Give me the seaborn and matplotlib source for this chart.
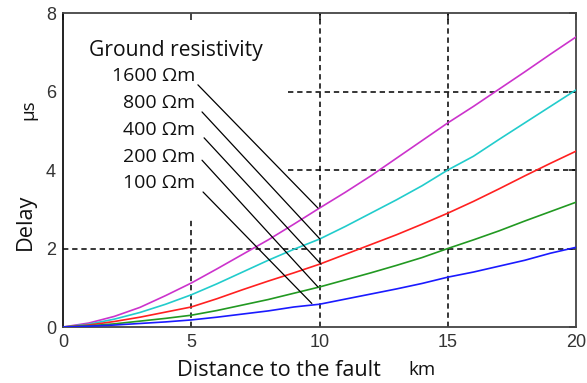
import matplotlib
matplotlib.use("Agg")
import matplotlib.pyplot as plt
import seaborn as sns
import pandas as pd
import numpy as np

distance_km = [0, 1, 2, 3, 4, 5, 6, 7, 8, 9, 10, 11, 12, 13, 14, 15, 16, 17, 18, 19, 20]
delay_1600 = [0, 0.10, 0.27, 0.50, 0.80, 1.12, 1.48, 1.85, 2.22, 2.62, 3.03, 3.43, 3.85, 4.30, 4.75, 5.20, 5.62, 6.06, 6.50, 6.95, 7.39]
delay_800 = [0, 0.07, 0.20, 0.37, 0.58, 0.82, 1.10, 1.40, 1.70, 1.98, 2.24, 2.56, 2.90, 3.24, 3.60, 4.00, 4.35, 4.78, 5.20, 5.62, 6.04]
delay_400 = [0, 0.05, 0.14, 0.25, 0.38, 0.51, 0.72, 0.95, 1.17, 1.38, 1.60, 1.85, 2.10, 2.35, 2.62, 2.90, 3.20, 3.52, 3.85, 4.17, 4.48]
delay_200 = [0, 0.03, 0.08, 0.15, 0.22, 0.30, 0.42, 0.56, 0.70, 0.86, 1.02, 1.20, 1.38, 1.57, 1.77, 2.00, 2.22, 2.45, 2.70, 2.94, 3.18]
delay_100 = [0, 0.02, 0.05, 0.09, 0.13, 0.18, 0.25, 0.33, 0.41, 0.51, 0.58, 0.71, 0.84, 0.97, 1.11, 1.27, 1.40, 1.55, 1.70, 1.88, 2.03]

resistivity_labels = ["1600 \u03a9m", "800 \u03a9m", "400 \u03a9m", "200 \u03a9m", "100 \u03a9m"]
line_colors = ["#CC33CC", "#22CCCC", "#FF2020", "#229922", "#1A1AFF"]
x_ticks = [0, 5, 10, 15, 20]
y_ticks = [0, 2, 4, 6, 8]

# label positions (text right end) and pointer line endpoints, data coords
label_xy = [(5.15, 6.39), (5.15, 5.70), (5.15, 5.02), (5.15, 4.33), (5.15, 3.67)]
pointer_start = [(5.26, 6.17), (5.42, 5.48), (5.50, 4.82), (5.42, 4.25), (5.46, 3.44)]
pointer_end = [(9.94, 3.03), (10.02, 2.24), (10.06, 1.60), (9.94, 1.02), (9.70, 0.60)]

series = [delay_1600, delay_800, delay_400, delay_200, delay_100]
df = pd.concat([
    pd.DataFrame({"distance": distance_km, "delay": vals, "res": lab})
    for vals, lab in zip(series, resistivity_labels)
], ignore_index=True)

sns.set_style("white")
plt.rcParams["font.family"] = ["Liberation Sans", "DejaVu Sans"]

fig = plt.figure(figsize=(5.87, 3.83), dpi=100)
ax = fig.add_axes([0.1073, 0.1462, 0.874, 0.8198])

sns.lineplot(data=df, x="distance", y="delay", hue="res", hue_order=resistivity_labels,
             palette=line_colors, linewidth=1.2, ax=ax, legend=False, zorder=3)

ax.set_xlim(0, 20)
ax.set_ylim(0, 8)
ax.set_xticks(x_ticks)
ax.set_yticks(y_ticks)
ax.tick_params(direction="in", length=5, width=1.2, top=True, right=True,
               labelsize=13, labelcolor="#333333", pad=5, color="#222222")
for s in ax.spines.values():
    s.set_linewidth(1.3)
    s.set_color("#444444")
ax.spines["left"].set_color("#111111")

# partial dashed grid
gkw = dict(color="black", linestyle=(0, (3.5, 2.5)), linewidth=1.1, zorder=1)
ax.axhline(2, **gkw)
ax.axhline(4, xmin=8.77 / 20, **gkw)
ax.axhline(6, xmin=8.77 / 20, **gkw)
ax.axvline(5, ymax=2.73 / 8, **gkw)
ax.axvline(10, **gkw)
ax.axvline(15, **gkw)

tfont = ["Open Sans", "DejaVu Sans"]
ax.text(4.4, 7.04, "Ground resistivity", ha="center", va="center", fontsize=15.2,
        family=tfont, color="#111111")
for lab, (tx, ty), (x0, y0), (x1, y1) in zip(resistivity_labels, label_xy, pointer_start, pointer_end):
    ax.text(tx, ty, lab, ha="right", va="center", fontsize=14, family=tfont, color="#111111")
    ax.plot([x0, x1], [y0, y1], color="black", linewidth=0.9, zorder=4)

ax.set_xlabel("")
ax.set_ylabel("")
fig.text(279 / 587, 1 - 370 / 383, "Distance to the fault", ha="center", va="center",
         fontsize=15.6, family=tfont, color="#111111")
fig.text(422 / 587, 1 - 370 / 383, "km", ha="center", va="center",
         fontsize=13.5, family=tfont, color="#111111")
fig.text(25 / 587, 1 - 222 / 383, "Delay", ha="center", va="center", rotation=90,
         fontsize=15.6, family=tfont, color="#111111")
fig.text(28 / 587, 1 - 110 / 383, "\u03bcs", ha="center", va="center", rotation=90,
         fontsize=13.5, family=tfont, color="#111111")

fig.savefig("out.png", dpi=100)
